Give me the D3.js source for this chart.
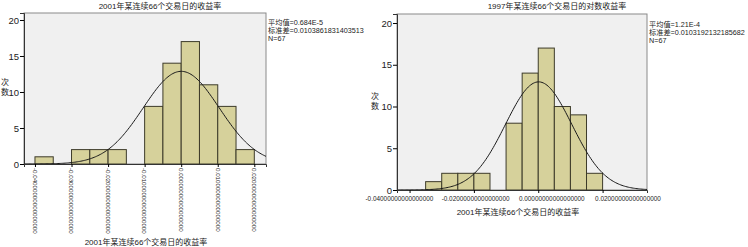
<!DOCTYPE html>
<html>
<head>
<meta charset="utf-8">
<script src="https://cdn.jsdelivr.net/npm/d3@7"></script>
<style>
  body { margin:0; background:#fff; }
  text { font-family:"Liberation Sans","Noto Sans CJK SC",sans-serif; fill:#222; }
</style>
</head>
<body>
<svg id="viz-svg" width="748" height="247"></svg>
<script>
// bin starts (width 0.005) and counts
var binStarts = [-0.04,-0.035,-0.03,-0.025,-0.02,-0.015,-0.01,-0.005,0,0.005,0.01,0.015]
  , counts2001 = [1,0,2,2,2,0,8,14,17,11,8,2]
  , counts1997 = [0,1,2,2,2,0,8,14,17,10,9,2]
  , binWidth = 0.005
  , yTicks = [0,5,10,15,20]
  , xTicks2001 = [-0.04,-0.03,-0.02,-0.01,0,0.01,0.02]
  , xLabels2001 = ["-0.04000000000000000","-0.03000000000000000","-0.02000000000000000","-0.01000000000000000","0.00000000000000000","0.01000000000000000","0.02000000000000000"]
  , xTicks1997 = [-0.04,-0.02,0,0.02]
  , xLabels1997 = ["-0.04000000000000000","-0.02000000000000000","0.00000000000000000","0.02000000000000000"]
  , stats2001 = {mean:0.684e-5, sd:0.0103861831403513, n:67}
  , stats1997 = {mean:1.21e-4, sd:0.0103192132185682, n:67}
  , statText2001 = ["平均值=0.684E-5","标准差=0.0103861831403513","N=67"]
  , statText1997 = ["平均值=1.21E-4","标准差=0.0103192132185682","N=67"]
  ;

var svg = d3.select("#viz-svg");

function histChart(o){
  var g = svg.append("g")
    , x = d3.scaleLinear().domain(o.xDomain).range([o.left,o.right])
    , y = d3.scaleLinear().domain(o.yDomain).range([o.bottom,o.top])
    , data = binStarts.map(function(b,i){ return {x0:b, x1:b+binWidth, n:o.counts[i]}; })
    ;

  // plot frame
  g.append("rect")
    .attr("x",o.left).attr("y",o.top)
    .attr("width",o.right-o.left).attr("height",o.bottom-o.top)
    .attr("fill","#f0f0f0")
    .attr("stroke","#8a8a8a");

  g.selectAll(".bar")
    .data(data.filter(function(d){ return d.n>0; }))
    .enter().append("rect")
    .classed("bar",true)
    .attr("x",function(d){ return x(d.x0); })
    .attr("y",function(d){ return y(d.n); })
    .attr("width",function(d){ return x(d.x1)-x(d.x0); })
    .attr("height",function(d){ return y(0)-y(d.n); })
    .attr("fill","#d6d19b")
    .attr("stroke","#3d3b2a")
    .attr("stroke-width",1);

  // fitted normal curve from the reported mean / sd
  var s = o.stats
    , k = s.n*binWidth/(s.sd*Math.sqrt(2*Math.PI))
    , pts = d3.range(0,201).map(function(i){
        var v = o.xDomain[0] + (o.xDomain[1]-o.xDomain[0])*i/200;
        return [v, k*Math.exp(-0.5*Math.pow((v-s.mean)/s.sd,2))];
      });
  g.append("path")
    .datum(pts)
    .attr("fill","none")
    .attr("stroke","#1a1a1a")
    .attr("stroke-width",1)
    .attr("d",d3.line().x(function(d){ return x(d[0]); }).y(function(d){ return y(d[1]); }));

  // axes
  var yAxis = g.append("g")
    .attr("transform","translate("+o.left+",0)")
    .call(d3.axisLeft(y).tickValues(yTicks).tickSize(4).tickPadding(1));
  yAxis.select(".domain").attr("stroke","#333");
  yAxis.selectAll("text").style("font-size","9.5px").attr("fill","#222");

  var xAxis = g.append("g")
    .attr("transform","translate(0,"+o.bottom+")")
    .call(d3.axisBottom(x).tickValues(o.xTicks).tickSize(3).tickFormat(""));
  xAxis.select(".domain").attr("stroke","#333");

  if (o.rotate){
    g.selectAll(".xlab")
      .data(o.xTicks)
      .enter().append("text")
      .attr("transform",function(d){ return "translate("+x(d)+","+(o.bottom+4)+") rotate(90)"; })
      .attr("dy","0.35em")
      .style("font-size","6.2px")
      .text(function(d,i){ return o.xLabels[i]; });
  } else {
    // SPSS spreads these long labels wider than the tick spacing
    var lx = d3.scaleLinear().domain([o.xTicks[0],o.xTicks[o.xTicks.length-1]]).range(o.labelRange);
    g.selectAll(".xlab")
      .data(o.xTicks)
      .enter().append("text")
      .attr("x",function(d){ return lx(d); })
      .attr("y",o.bottom+11)
      .attr("text-anchor","middle")
      .style("font-size","6.4px")
      .text(function(d,i){ return o.xLabels[i]; });
  }

  g.append("text")
    .attr("x",o.titleX).attr("y",9)
    .attr("text-anchor","middle")
    .style("font-size","8px")
    .text(o.title);

  g.append("text")
    .attr("x",o.xTitleX).attr("y",o.xTitleY)
    .attr("text-anchor","middle")
    .style("font-size","8px")
    .text(o.xTitle);

  g.selectAll(".ylab")
    .data(["次","数"])
    .enter().append("text")
    .attr("x",o.yLabX)
    .attr("y",function(d,i){ return o.yLabY+i*10; })
    .attr("text-anchor","middle")
    .style("font-size","8px")
    .text(function(d){ return d; });

  g.selectAll(".stat")
    .data(o.statText)
    .enter().append("text")
    .attr("x",o.right+2)
    .attr("y",function(d,i){ return o.statY+i*8; })
    .style("font-size","7.2px")
    .text(function(d){ return d; });
}

histChart({
  left:24, right:266, top:13, bottom:164
  , xDomain:[-0.043,0.0232], yDomain:[0,20.97]
  , counts:counts2001, stats:stats2001, statText:statText2001
  , xTicks:xTicks2001, xLabels:xLabels2001, rotate:true
  , title:"2001年某连续66个交易日的收益率", titleX:160
  , xTitle:"2001年某连续66个交易日的收益率", xTitleX:146, xTitleY:245
  , yLabX:5, yLabY:85, statY:25
});

histChart({
  left:397, right:647, top:14, bottom:190
  , xDomain:[-0.0439,0.0338], yDomain:[0,21.08]
  , counts:counts1997, stats:stats1997, statText:statText1997
  , xTicks:xTicks1997, xLabels:xLabels1997, rotate:false, labelRange:[399.4,628]
  , title:"1997年某连续66个交易日的对数收益率", titleX:557
  , xTitle:"2001年某连续66个交易日的收益率", xTitleX:518, xTitleY:215
  , yLabX:375, yLabY:99, statY:27
});
</script>
</body>
</html>
